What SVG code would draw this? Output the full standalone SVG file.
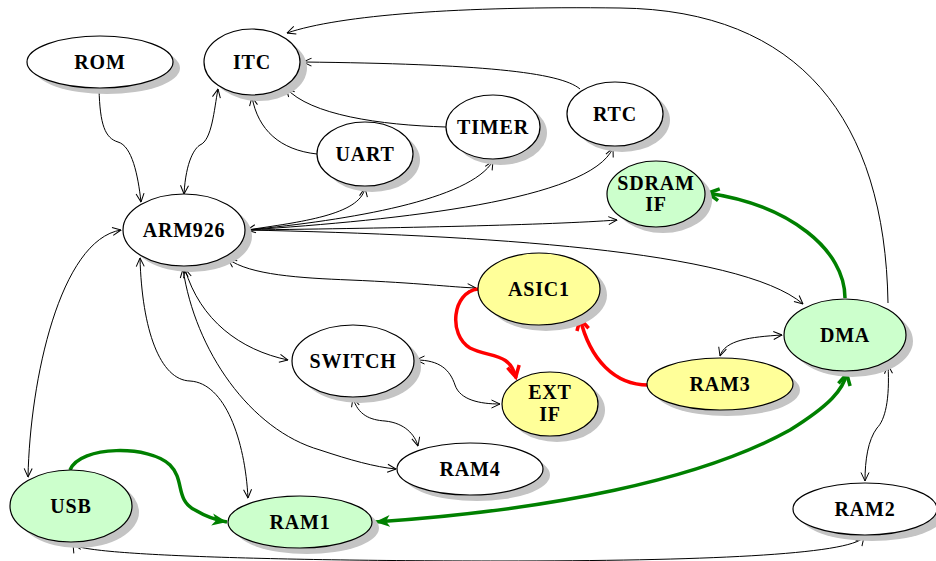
<svg xmlns="http://www.w3.org/2000/svg" width="936" height="561" viewBox="0 0 936 561">
  <style>
    .sh { fill: #c4c4c4; }
    .nd { stroke: #000; stroke-width: 1.2; }
    .w { fill: #ffffff; }
    .g { fill: #ccffcc; }
    .y { fill: #ffff99; }
    text { font-family: "Liberation Serif", "Times New Roman", serif; font-weight: bold; font-size: 20px; letter-spacing: 0.8px; text-anchor: middle; fill: #000; }
    .e { fill: none; stroke: #000; stroke-width: 1; }
    .r { fill: none; stroke: #ff0000; stroke-width: 3.5; }
    .gr { fill: none; stroke: #008000; stroke-width: 3.5; }
  </style>
  <defs>
    <marker id="a" viewBox="0 0 10 10" refX="9.5" refY="5" markerWidth="10" markerHeight="10" markerUnits="userSpaceOnUse" orient="auto-start-reverse">
      <path d="M1,1 L9.5,5 L1,9" fill="none" stroke="#000" stroke-width="1"/>
    </marker>
    <marker id="ar" viewBox="0 0 16 16" refX="14" refY="8" markerWidth="16" markerHeight="16" markerUnits="userSpaceOnUse" orient="auto-start-reverse">
      <path d="M2,2 L13,8 L2,14" fill="none" stroke="#ff0000" stroke-width="3.5" stroke-linejoin="miter"/>
    </marker>
    <marker id="ag" viewBox="0 0 16 16" refX="14" refY="8" markerWidth="16" markerHeight="16" markerUnits="userSpaceOnUse" orient="auto-start-reverse">
      <path d="M2,2 L13,8 L2,14" fill="none" stroke="#008000" stroke-width="3.5" stroke-linejoin="miter"/>
    </marker>
    <marker id="agf" viewBox="0 0 16 16" refX="15" refY="8" markerWidth="16" markerHeight="16" markerUnits="userSpaceOnUse" orient="auto-start-reverse">
      <path d="M0,2 L15,8 L0,14 L4,8 z" fill="#008000"/>
    </marker>
  </defs>

  <!-- connectors -->
  <g id="edges">
    <path class="e" d="M99,89 C100,125 105,138 118,142 C132,146 138,175 141,202" marker-end="url(#a)"/>
    <path class="e" d="M184,194 C186,160 195,148 200,145 C212,140 214,110 218,89" marker-start="url(#a)" marker-end="url(#a)"/>
    <path class="e" d="M317,154 C280,150 258,130 252,97" marker-end="url(#a)"/>
    <path class="e" d="M446,127 C380,125 310,115 286,88" marker-end="url(#a)"/>
    <path class="e" d="M580,89 C560,72 480,64 303,62" marker-end="url(#a)"/>
    <path class="e" d="M888,303 C885,120 800,10 620,8 C460,6 340,15 287,33" marker-end="url(#a)"/>
    <path class="e" d="M247,230 C300,222 360,215 365,188" marker-start="url(#a)" marker-end="url(#a)"/>
    <path class="e" d="M247,230 C350,220 470,200 493,161" marker-end="url(#a)"/>
    <path class="e" d="M247,230 C400,220 590,200 613,148" marker-end="url(#a)"/>
    <path class="e" d="M247,230 C400,228 550,225 617,220" marker-end="url(#a)"/>
    <path class="e" d="M247,230 C480,235 740,250 803,304" marker-end="url(#a)"/>
    <path class="e" d="M228,259 C250,275 300,278 350,280 C420,283 450,287 476,288" marker-start="url(#a)" marker-end="url(#a)"/>
    <path class="e" d="M185,269 C200,320 240,350 288,360" marker-start="url(#a)" marker-end="url(#a)"/>
    <path class="e" d="M183,269 C195,350 250,430 320,450 C350,460 375,467 396,469" marker-start="url(#a)" marker-end="url(#a)"/>
    <path class="e" d="M140,258 C142,330 160,380 190,381 C225,383 245,440 248,498" marker-start="url(#a)" marker-end="url(#a)"/>
    <path class="e" d="M121,230 C60,240 30,380 28,477" marker-start="url(#a)" marker-end="url(#a)"/>
    <path class="e" d="M416,360 C440,360 450,370 455,385 C460,400 480,404 500,404" marker-start="url(#a)" marker-end="url(#a)"/>
    <path class="e" d="M353,398 C358,415 370,420 385,421 C405,423 415,435 418,446" marker-start="url(#a)" marker-end="url(#a)"/>
    <path class="e" d="M720,356 C725,340 750,337 782,335" marker-start="url(#a)" marker-end="url(#a)"/>
    <path class="e" d="M888,365 C890,400 885,420 877,428 C868,440 865,460 865,481" marker-start="url(#a)" marker-end="url(#a)"/>
    <path class="e" d="M73,544 C80,556 300,561 500,561 C700,561 850,555 864,537" marker-start="url(#a)" marker-end="url(#a)"/>
    <path class="r" d="M478,289 C452,292 448,335 470,348 C490,358 510,352 516,378" marker-end="url(#ar)"/>
    <path class="r" d="M648,385 C615,385 590,360 580,318" marker-end="url(#ar)"/>
    <path class="gr" d="M845,298 C845,250 790,205 707,193" marker-end="url(#ag)"/>
    <path class="gr" d="M375,522 C550,510 700,480 790,430 C830,405 843,390 847,373" marker-start="url(#agf)" marker-end="url(#ag)"/>
    <path class="gr" d="M70,470 C80,445 150,445 170,465 C185,480 175,500 195,510 C205,516 215,520 227,522" marker-end="url(#agf)"/>
  </g>

  <!-- nodes -->
  <g id="ROM"><ellipse class="sh" cx="107" cy="68" rx="73" ry="26"/><ellipse class="nd w" cx="100" cy="62" rx="73" ry="26"/><text x="100" y="69">ROM</text></g>
  <g id="ITC"><ellipse class="sh" cx="259" cy="68" rx="48" ry="33"/><ellipse class="nd w" cx="252" cy="62" rx="48" ry="33"/><text x="252" y="69">ITC</text></g>
  <g id="UART"><ellipse class="sh" cx="372" cy="160" rx="48" ry="32"/><ellipse class="nd w" cx="365" cy="154" rx="48" ry="32"/><text x="365" y="161">UART</text></g>
  <g id="TIMER"><ellipse class="sh" cx="500" cy="133" rx="47" ry="32"/><ellipse class="nd w" cx="493" cy="127" rx="47" ry="32"/><text x="493" y="134">TIMER</text></g>
  <g id="RTC"><ellipse class="sh" cx="622" cy="120" rx="48" ry="32"/><ellipse class="nd w" cx="615" cy="114" rx="48" ry="32"/><text x="615" y="121">RTC</text></g>
  <g id="SDRAM_IF"><ellipse class="sh" cx="663" cy="200" rx="49" ry="33"/><ellipse class="nd g" cx="656" cy="194" rx="49" ry="33"/><text x="656" y="190">SDRAM</text><text x="656" y="211">IF</text></g>
  <g id="ARM926"><ellipse class="sh" cx="191" cy="236" rx="61" ry="36"/><ellipse class="nd w" cx="184" cy="230" rx="61" ry="36"/><text x="184" y="237">ARM926</text></g>
  <g id="ASIC1"><ellipse class="sh" cx="546" cy="295" rx="61" ry="36"/><ellipse class="nd y" cx="539" cy="289" rx="61" ry="36"/><text x="539" y="296">ASIC1</text></g>
  <g id="SWITCH"><ellipse class="sh" cx="360" cy="367" rx="61" ry="36"/><ellipse class="nd w" cx="353" cy="361" rx="61" ry="36"/><text x="353" y="368">SWITCH</text></g>
  <g id="EXT_IF"><ellipse class="sh" cx="557" cy="410" rx="48" ry="32"/><ellipse class="nd y" cx="550" cy="404" rx="48" ry="32"/><text x="550" y="399">EXT</text><text x="550" y="421">IF</text></g>
  <g id="DMA"><ellipse class="sh" cx="852" cy="341" rx="61" ry="36"/><ellipse class="nd g" cx="845" cy="335" rx="61" ry="36"/><text x="845" y="342">DMA</text></g>
  <g id="RAM3"><ellipse class="sh" cx="727" cy="390" rx="73" ry="26"/><ellipse class="nd y" cx="720" cy="384" rx="73" ry="26"/><text x="720" y="391">RAM3</text></g>
  <g id="RAM4"><ellipse class="sh" cx="477" cy="475" rx="73" ry="26"/><ellipse class="nd w" cx="470" cy="469" rx="73" ry="26"/><text x="470" y="476">RAM4</text></g>
  <g id="USB"><ellipse class="sh" cx="78" cy="512" rx="61" ry="36"/><ellipse class="nd g" cx="71" cy="506" rx="61" ry="36"/><text x="71" y="513">USB</text></g>
  <g id="RAM1"><ellipse class="sh" cx="307" cy="528" rx="72" ry="26"/><ellipse class="nd g" cx="300" cy="522" rx="72" ry="26"/><text x="300" y="529">RAM1</text></g>
  <g id="RAM2"><ellipse class="sh" cx="872" cy="515" rx="72" ry="26"/><ellipse class="nd w" cx="865" cy="509" rx="72" ry="26"/><text x="865" y="516">RAM2</text></g>
</svg>
